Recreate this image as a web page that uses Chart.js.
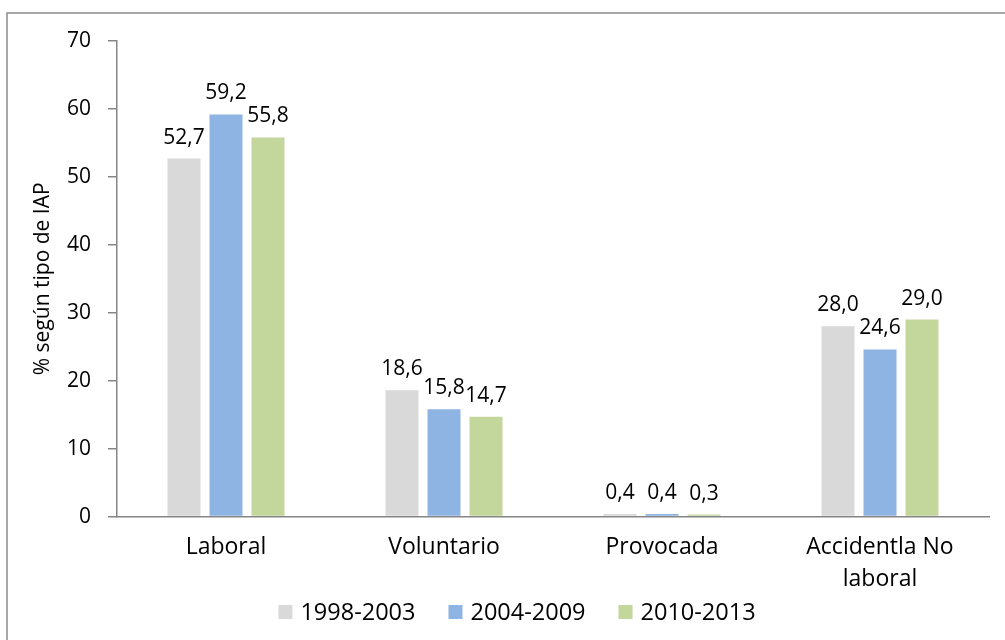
<!DOCTYPE html>
<html>
<head>
<meta charset="utf-8">
<script src="https://cdn.jsdelivr.net/npm/chart.js@4"></script>
<style>
  html, body { margin: 0; padding: 0; background: #fff; overflow: hidden; }
  #wrap { position: relative; width: 1005px; height: 640px; }
</style>
</head>
<body>
<div id="wrap"><canvas id="chartIAP"></canvas></div>
<script>
'use strict';

const CATEGORIES = ['Laboral', 'Voluntario', 'Provocada', ['Accidentla No', 'laboral']];
const SERIES_NAMES = ['1998-2003', '2004-2009', '2010-2013'];
const VALUES_1998_2003 = [52.7, 18.6, 0.4, 28.0];
const VALUES_2004_2009 = [59.2, 15.8, 0.4, 24.6];
const VALUES_2010_2013 = [55.8, 14.7, 0.3, 29.0];
const Y_TICKS = [0, 10, 20, 30, 40, 50, 60, 70];
const Y_TITLE = '% según tipo de IAP';

const COLORS = ['#d9d9d9', '#8eb4e3', '#c3d69b'];
const FONT = "'Open Sans', 'Noto Sans', sans-serif";
const FONT_SIZE = 21;
const AXIS_GREY = '#868686';

// frame round the chart, runs off the right and bottom edge like the source
const framePlugin = {
  id: 'frame',
  beforeDraw(chart) {
    const c = chart.ctx;
    c.save();
    c.strokeStyle = '#8c8c8c';
    c.lineWidth = 1.5;
    c.strokeRect(7, 13, chart.width + 20, chart.height + 20);
    c.restore();
  }
};

// value labels above each bar, with a decimal comma
const valueLabels = {
  id: 'valueLabels',
  afterDatasetsDraw(chart) {
    const c = chart.ctx;
    c.save();
    c.font = FONT_SIZE + 'px ' + FONT;
    c.fillStyle = '#000';
    c.textAlign = 'center';
    c.textBaseline = 'alphabetic';
    chart.data.datasets.forEach((ds, i) => {
      const meta = chart.getDatasetMeta(i);
      meta.data.forEach((bar, j) => {
        c.fillText(ds.data[j].toFixed(1).replace('.', ','), bar.x, bar.y - 15);
      });
    });
    c.restore();
  }
};

// legend sits in the same band as the second line of the last category,
// so it is drawn by hand instead of taking its own layout box
const bottomLegend = {
  id: 'bottomLegend',
  afterDraw(chart) {
    const c = chart.ctx;
    const box = 14, gap = 8, space = 33, cy = 612, centre = 517;
    c.save();
    c.font = '23.5px ' + FONT;
    c.textBaseline = 'middle';
    c.fillStyle = '#000';
    const items = chart.data.datasets.map(ds => ({ text: ds.label, color: ds.backgroundColor, w: c.measureText(ds.label).width }));
    const total = items.reduce((s, it) => s + box + gap + it.w, 0) + space * (items.length - 1);
    let x = centre - total / 2;
    items.forEach(it => {
      c.fillStyle = it.color;
      c.fillRect(x, cy - box / 2, box, box);
      c.fillStyle = '#000';
      c.fillText(it.text, x + box + gap, cy + 1);
      x += box + gap + it.w + space;
    });
    c.restore();
  }
};

const data = {
  labels: CATEGORIES,
  datasets: [VALUES_1998_2003, VALUES_2004_2009, VALUES_2010_2013].map((vals, i) => ({
    label: SERIES_NAMES[i],
    data: vals,
    backgroundColor: COLORS[i],
    borderWidth: 0,
    categoryPercentage: 0.578,
    barPercentage: 0.786,
  }))
};

new Chart(document.getElementById('chartIAP'), {
  type: 'bar',
  data,
  options: {
    responsive: true,
    maintainAspectRatio: false,
    animation: false,
    layout: { padding: { left: 30, right: 16, top: 41, bottom: 37 } },
    plugins: {
      legend: { display: false },
      tooltip: { enabled: false },
    },
    scales: {
      x: {
        grid: { display: false },
        border: { color: AXIS_GREY, width: 1.5 },
        ticks: {
          color: '#000',
          font: { family: FONT, size: 23, lineHeight: 1.4 },
          padding: 7,
          maxRotation: 0,
          autoSkip: false,
        }
      },
      y: {
        min: 0, max: 70,
        afterBuildTicks: axis => { axis.ticks = Y_TICKS.map(v => ({ value: v })); },
        afterFit: axis => { axis.width = 87; },
        grid: { drawOnChartArea: false, drawTicks: true, tickLength: 9, color: AXIS_GREY, lineWidth: 1.5 },
        border: { color: AXIS_GREY, width: 1.5 },
        ticks: { color: '#000', font: { family: FONT, size: FONT_SIZE }, padding: 17 },
        title: {
          display: true, text: Y_TITLE, color: '#000',
          font: { family: FONT, size: FONT_SIZE }, padding: { top: 0, bottom: 0 }
        }
      }
    }
  },
  plugins: [framePlugin, valueLabels, bottomLegend]
});
</script>
</body>
</html>
